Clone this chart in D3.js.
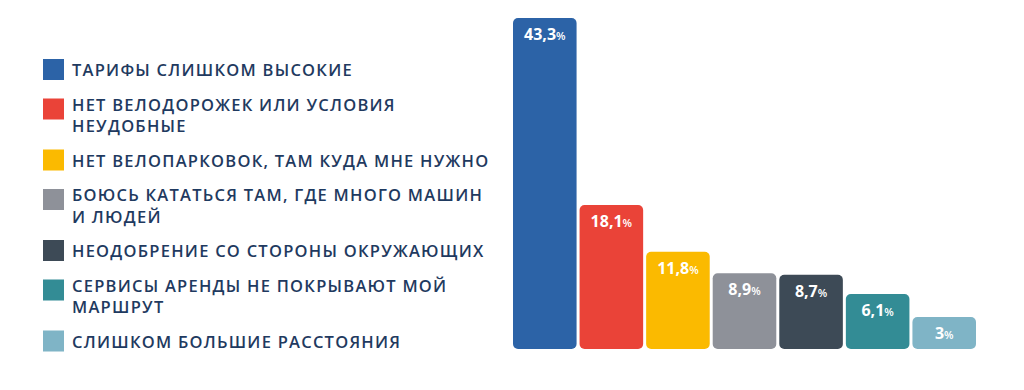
<!DOCTYPE html>
<meta charset="utf-8">
<style>
  body { margin: 0; background: #fff; }
  text { font-family: "Open Sans", sans-serif; }
</style>
<svg width="1024" height="390"></svg>
<script src="https://d3js.org/d3.v7.min.js"></script>
<script>

var categories = [
  ['ТАРИФЫ СЛИШКОМ ВЫСОКИЕ'],
  ['НЕТ ВЕЛОДОРОЖЕК ИЛИ УСЛОВИЯ', 'НЕУДОБНЫЕ'],
  ['НЕТ ВЕЛОПАРКОВОК, ТАМ КУДА МНЕ НУЖНО'],
  ['БОЮСЬ КАТАТЬСЯ ТАМ, ГДЕ МНОГО МАШИН', 'И ЛЮДЕЙ'],
  ['НЕОДОБРЕНИЕ СО СТОРОНЫ ОКРУЖАЮЩИХ'],
  ['СЕРВИСЫ АРЕНДЫ НЕ ПОКРЫВАЮТ МОЙ', 'МАРШРУТ'],
  ['СЛИШКОМ БОЛЬШИЕ РАССТОЯНИЯ']
];
var values = [43.3, 18.1, 11.8, 8.9, 8.7, 6.1, 3];
var valueLabels = ['43,3', '18,1', '11,8', '8,9', '8,7', '6,1', '3'];
var colors = ['#2c63a7', '#ea4338', '#fbba00', '#8e9199', '#3d4a56', '#338c95', '#7fb4c6'];

var svg = d3.select('svg');
var textCol = '#1f3a60';

// legend
var legend = svg.append('g').attr('class', 'legend');
var yPos = 59;
categories.forEach(function(lines, i) {
  var g = legend.append('g');
  g.append('rect')
    .attr('x', 43).attr('y', yPos)
    .attr('width', 21).attr('height', 21)
    .attr('fill', colors[i]);
  var base = lines.length > 1 ? yPos + 12 : yPos + 17;
  lines.forEach(function(l, j) {
    g.append('text')
      .attr('x', 72).attr('y', base + j * 21.5)
      .attr('fill', textCol)
      .attr('font-size', 16.5)
      .attr('font-weight', 600)
      .attr('letter-spacing', 1.25)
      .text(l);
  });
  yPos += lines.length > 1 ? 51 : 39.5;
});

// bars
var x = d3.scaleBand()
  .domain(d3.range(values.length))
  .range([513, 976])
  .paddingInner(0.045);

var y = d3.scaleLinear()
  .domain([-1.3, 43.3])
  .range([349, 18]);

var bars = svg.append('g').attr('class', 'bars')
  .selectAll('g')
  .data(values)
  .enter().append('g');

bars.append('rect')
  .attr('x', function(d, i) { return x(i); })
  .attr('y', function(d) { return y(d); })
  .attr('width', x.bandwidth())
  .attr('height', function(d) { return y(-1.3) - y(d); })
  .attr('rx', 5)
  .attr('fill', function(d, i) { return colors[i]; });

var lbl = bars.append('text')
  .attr('x', function(d, i) { return x(i) + x.bandwidth() / 2; })
  .attr('y', function(d) { return y(d) + 22; })
  .attr('text-anchor', 'middle')
  .attr('fill', '#fff');

lbl.append('tspan')
  .attr('font-size', 16)
  .attr('font-weight', 700)
  .text(function(d, i) { return valueLabels[i]; });
lbl.append('tspan')
  .attr('font-size', 11)
  .attr('font-weight', 600)
  .text('%');

</script>
